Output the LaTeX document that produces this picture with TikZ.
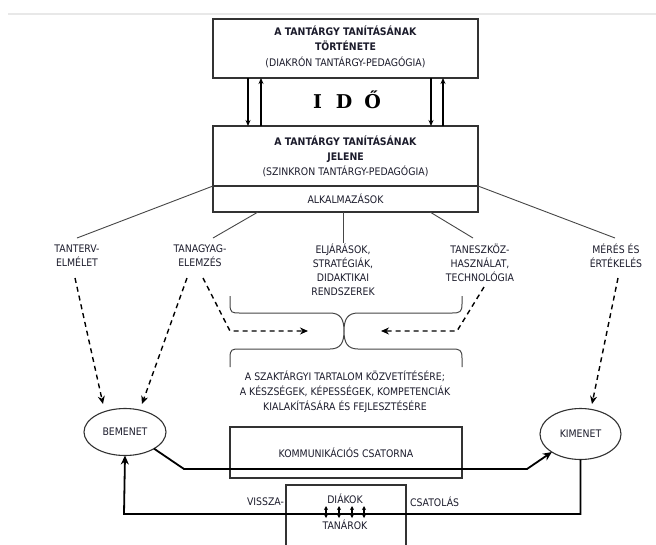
\documentclass[tikz,border=0pt]{standalone}
\usepackage{fontspec}
\setmainfont{DejaVu Sans Condensed}
\newfontfamily\idofont{DejaVu Serif}
\usetikzlibrary{arrows.meta,shapes.geometric,calc}
\definecolor{ink}{RGB}{28,28,44}
\definecolor{edge}{RGB}{50,50,50}
\definecolor{thinline}{RGB}{70,70,70}
\begin{document}
\begin{tikzpicture}[x=1pt,y=-1pt,
  every node/.style={inner sep=0pt, outer sep=0pt},
  txt/.style={font=\fontsize{10.4}{14}\selectfont, align=center, text=ink},
  boxstyle/.style={draw=edge, line width=1.2pt},
  thinlink/.style={draw=thinline, line width=0.9pt},
  dashlink/.style={draw=black, line width=1.4pt, dash pattern=on 5pt off 4pt, -{Stealth[length=8pt,width=7pt]}},
  dashplain/.style={draw=black, line width=1.4pt, dash pattern=on 5pt off 4pt},
  timearrow/.style={draw=black, line width=1.3pt, -{Stealth[length=6pt,width=5pt]}},
  flow/.style={draw=black, line width=1.8pt, -{Stealth[length=9pt,width=8pt]}},
  bracestyle/.style={draw=thinline, line width=1pt},
  ellstyle/.style={ellipse, draw=edge, line width=1.1pt, txt}
]
\useasboundingbox (0,0) rectangle (656,544);
\fill[white] (0,0) rectangle (656,544);
% faint top rule
\coordinate (ruleL) at (8,14);
\coordinate (ruleR) at (656,14);
\draw[line width=2pt, black!9] (ruleL) -- (ruleR);

% top box
\node[boxstyle, minimum width=265, minimum height=59] (hist) at (345.5,48.5) {};
\node[txt, font=\fontsize{10.4}{15.5}\selectfont] (histtxt) at (345.5,46.5)
  {\textbf{A TANTÁRGY TANÍTÁSÁNAK}\\\textbf{TÖRTÉNETE}\\(DIAKRÓN TANTÁRGY-PEDAGÓGIA)};

% middle box
\node[boxstyle, minimum width=265, minimum height=86] (pres) at (345.5,169) {};
\coordinate (divL) at (213,186);
\coordinate (divR) at (478,186);
\draw[boxstyle] (divL) -- (divR);
\node[txt, font=\fontsize{10.4}{15}\selectfont] (prestxt) at (345.5,156)
  {\textbf{A TANTÁRGY TANÍTÁSÁNAK}\\\textbf{JELENE}\\(SZINKRON TANTÁRGY-PEDAGÓGIA)};
\node[txt] (alk) at (345.5,198.5) {ALKALMAZÁSOK};

% time arrows
\draw[timearrow] (hist.south -| 248,0) -- (pres.north -| 248,0);
\draw[timearrow] (pres.north -| 261,0) -- (hist.south -| 261,0);
\draw[timearrow] (hist.south -| 431,0) -- (pres.north -| 431,0);
\draw[timearrow] (pres.north -| 443,0) -- (hist.south -| 443,0);
\node[font=\idofont\bfseries\fontsize{19}{19}\selectfont, text=black] (ido) at (347,100) {I\hspace{14pt}D\hspace{12pt}Ő};

% category labels
\node[txt] (tanterv) at (77,256) {TANTERV-\\ELMÉLET};
\node[txt] (tanagy) at (200,256) {TANAGYAG-\\ELEMZÉS};
\node[txt] (eljar) at (343,270) {ELJÁRÁSOK,\\STRATÉGIÁK,\\DIDAKTIKAI\\RENDSZEREK};
\node[txt] (tanesz) at (480,263) {TANESZKÖZ-\\HASZNÁLAT,\\TECHNOLÓGIA};
\node[txt] (meres) at (616,256) {MÉRÉS ÉS\\ÉRTÉKELÉS};

% thin links
\coordinate (tA) at (77,238);
\coordinate (tB) at (213,238);
\coordinate (tC) at (343,243);
\coordinate (tD) at (473,238);
\coordinate (tE) at (615,238);
\draw[thinlink] (divL) -- (tA);
\draw[thinlink] (pres.south -| 258,0) -- (tB);
\draw[thinlink] (pres.south -| 343,0) -- (tC);
\draw[thinlink] (pres.south -| 430,0) -- (tD);
\draw[thinlink] (divR) -- (tE);

% ellipses
\node[ellstyle, minimum width=82, minimum height=47] (be) at (125,432) {BEMENET};
\node[ellstyle, minimum width=81, minimum height=51] (ki) at (580.5,434) {KIMENET};

% dashed arrows
\coordinate (d1s) at (75,278);
\coordinate (d1e) at (103,404);
\coordinate (d2s) at (187,278);
\coordinate (d2e) at (142,404);
\coordinate (d3s) at (203,278);
\coordinate (d3m) at (230,331);
\coordinate (d3e) at (308,331);
\coordinate (d4s) at (484,287);
\coordinate (d4m) at (457,331);
\coordinate (d4e) at (381,331);
\coordinate (d5s) at (618,278);
\coordinate (d5e) at (592,404);
\draw[dashlink] (d1s) -- (d1e);
\draw[dashlink] (d2s) -- (d2e);
\draw[dashlink] (d3s) -- (d3m) -- (d3e);
\draw[dashlink] (d4s) -- (d4m) -- (d4e);
\draw[dashlink] (d5s) -- (d5e);

% braces
\coordinate (cusp) at (344,331);
\draw[bracestyle] (230,296) -- (230,304) .. controls (230,313) and (232,313) .. (240,313)
  -- (330,313) .. controls (341,313) and (344,320) .. (cusp)
  .. controls (344,320) and (347,313) .. (358,313) -- (452,313)
  .. controls (460,313) and (462,312) .. (462,304) -- (462,296);
\draw[bracestyle] (230,367) -- (230,358) .. controls (230,349) and (232,349) .. (240,349)
  -- (330,349) .. controls (341,349) and (344,342) .. (cusp)
  .. controls (344,342) and (347,349) .. (358,349) -- (452,349)
  .. controls (460,349) and (462,350) .. (462,358) -- (462,367);

% purpose text
\node[txt, font=\fontsize{10.4}{15}\selectfont] (purpose) at (345,392)
  {A SZAKTÁRGYI TARTALOM KÖZVETÍTÉSÉRE;\\A KÉSZSÉGEK, KÉPESSÉGEK, KOMPETENCIÁK\\KIALAKÍTÁSÁRA ÉS FEJLESZTÉSÉRE};

% communication channel
\node[boxstyle, minimum width=232, minimum height=51, txt] (komm) at (346,452.5) {KOMMUNIKÁCIÓS CSATORNA};

% forward flow
\coordinate (f1) at (184,469);
\coordinate (f2) at (527,469);
\draw[flow] (be.south east) -- (f1) -- (f2) -- (ki.south west);

% bottom box
\node[boxstyle, minimum width=120, minimum height=80] (dt) at (346,525) {};
\node[txt] (diak) at (345,499) {DIÁKOK};
\node[txt] (tanar) at (345,525) {TANÁROK};
\foreach \xx in {326,339,352,364}{
  \draw[draw=black, line width=1.1pt, {Stealth[length=4pt,width=4pt]}-{Stealth[length=4pt,width=4pt]}] (\xx,506) -- (\xx,518);
}

% feedback
\coordinate (fb1) at (581,514);
\coordinate (fb2) at (124,514);
\draw[flow] (ki.south) -- (ki.south |- fb1) -- (fb2) -- (be.south);
\node[txt, anchor=east] (vissza) at (284,502) {VISSZA-};
\node[txt, anchor=west] (csat) at (410,502) {CSATOLÁS};
\end{tikzpicture}
\end{document}
